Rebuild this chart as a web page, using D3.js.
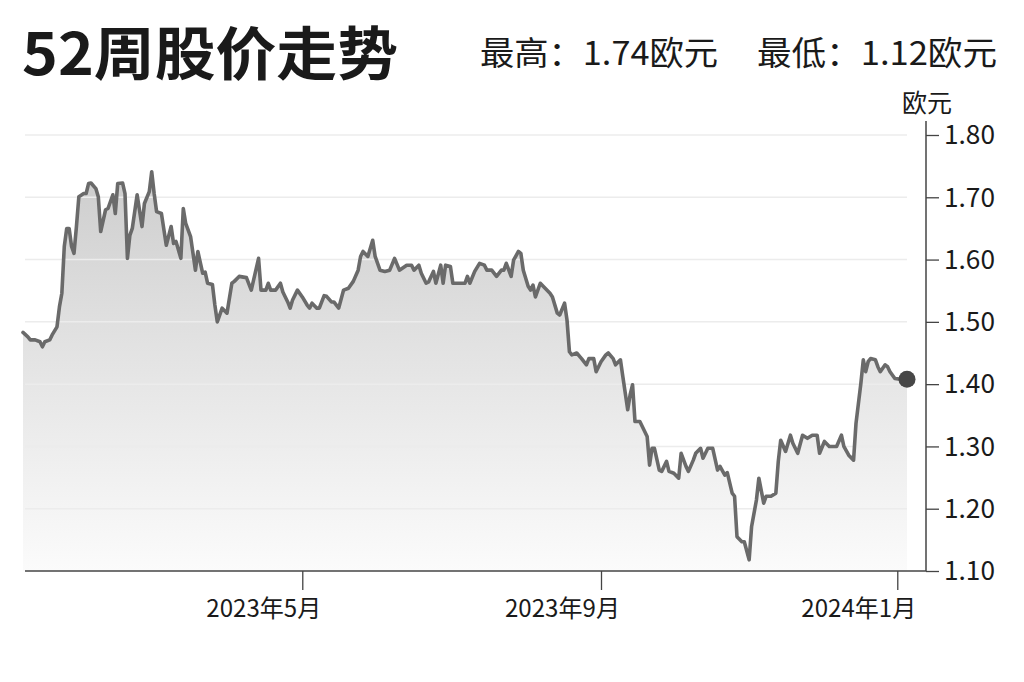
<!DOCTYPE html>
<html>
<head>
<meta charset="utf-8">
<script src="https://cdn.jsdelivr.net/npm/d3@7"></script>
<style>
  html, body { margin: 0; padding: 0; background: #ffffff; }
  svg { display: block; }
  text { font-family: "Noto Sans CJK SC", "Noto Sans", sans-serif; fill: #1a1a1a; }
</style>
</head>
<body>
<svg id="chart" width="1024" height="682"></svg>
<script>
// ---- data ----
const titleText = "52周股价走势";
const highText = "最高：1.74欧元";
const lowText = "最低：1.12欧元";
const unitText = "欧元";

const dates = [
"2023-01-06","2023-01-08","2023-01-09","2023-01-11","2023-01-13","2023-01-14","2023-01-15","2023-01-17","2023-01-18","2023-01-20",
"2023-01-21","2023-01-22","2023-01-23","2023-01-24","2023-01-25","2023-01-26","2023-01-27","2023-01-28","2023-01-29","2023-01-31",
"2023-02-01","2023-02-02","2023-02-03","2023-02-05","2023-02-06","2023-02-07","2023-02-09","2023-02-10","2023-02-12","2023-02-13",
"2023-02-14","2023-02-16","2023-02-17","2023-02-18","2023-02-19","2023-02-20","2023-02-22","2023-02-24","2023-02-25","2023-02-27",
"2023-02-28","2023-03-01","2023-03-02","2023-03-04","2023-03-06","2023-03-08","2023-03-09","2023-03-10","2023-03-12","2023-03-13",
"2023-03-14","2023-03-16","2023-03-18","2023-03-19","2023-03-21","2023-03-22","2023-03-23","2023-03-25","2023-03-26","2023-03-27",
"2023-03-29","2023-03-31","2023-04-02","2023-04-03","2023-04-05","2023-04-08","2023-04-10","2023-04-13","2023-04-14","2023-04-16",
"2023-04-17","2023-04-18","2023-04-20","2023-04-22","2023-04-23","2023-04-25","2023-04-26","2023-04-27","2023-04-29","2023-05-01",
"2023-05-03","2023-05-04","2023-05-05","2023-05-07","2023-05-08","2023-05-10","2023-05-11","2023-05-13","2023-05-14","2023-05-16",
"2023-05-18","2023-05-20","2023-05-22","2023-05-24","2023-05-25","2023-05-26","2023-05-28","2023-05-30","2023-05-31","2023-06-02",
"2023-06-04","2023-06-06","2023-06-08","2023-06-10","2023-06-13","2023-06-15","2023-06-16","2023-06-18","2023-06-19","2023-06-21",
"2023-06-22","2023-06-24","2023-06-25","2023-06-27","2023-06-28","2023-06-29","2023-07-01","2023-07-02","2023-07-05","2023-07-07",
"2023-07-08","2023-07-09","2023-07-11","2023-07-13","2023-07-15","2023-07-16","2023-07-18","2023-07-20","2023-07-22","2023-07-23",
"2023-07-24","2023-07-26","2023-07-27","2023-07-29","2023-07-30","2023-07-31","2023-08-02","2023-08-03","2023-08-04","2023-08-05",
"2023-08-07","2023-08-09","2023-08-11","2023-08-12","2023-08-14","2023-08-15","2023-08-17","2023-08-18","2023-08-19","2023-08-20",
"2023-08-22","2023-08-24","2023-08-26","2023-08-27","2023-08-29","2023-08-30","2023-09-01","2023-09-03","2023-09-04","2023-09-06",
"2023-09-07","2023-09-09","2023-09-10","2023-09-12","2023-09-13","2023-09-14","2023-09-15","2023-09-17","2023-09-18","2023-09-20",
"2023-09-21","2023-09-22","2023-09-23","2023-09-25","2023-09-26","2023-09-28","2023-09-29","2023-10-01","2023-10-03","2023-10-04",
"2023-10-06","2023-10-07","2023-10-09","2023-10-10","2023-10-12","2023-10-13","2023-10-15","2023-10-17","2023-10-19","2023-10-20",
"2023-10-22","2023-10-23","2023-10-25","2023-10-26","2023-10-27","2023-10-29","2023-10-30","2023-11-01","2023-11-02","2023-11-04",
"2023-11-05","2023-11-07","2023-11-08","2023-11-10","2023-11-12","2023-11-13","2023-11-14","2023-11-16","2023-11-18","2023-11-19",
"2023-11-21","2023-11-23","2023-11-25","2023-11-27","2023-11-29","2023-11-30","2023-12-02","2023-12-04","2023-12-06","2023-12-07",
"2023-12-09","2023-12-10","2023-12-12","2023-12-14","2023-12-15","2023-12-17","2023-12-18","2023-12-19","2023-12-20","2023-12-21",
"2023-12-23","2023-12-24","2023-12-25","2023-12-27","2023-12-28","2023-12-29","2023-12-31","2024-01-02","2024-01-05"
];

const prices = [
1.483,1.476,1.471,1.471,1.468,1.460,1.468,1.471,1.479,1.492,
1.524,1.546,1.621,1.650,1.650,1.621,1.610,1.653,1.701,1.706,
1.706,1.722,1.723,1.714,1.701,1.645,1.680,1.682,1.704,1.674,
1.722,1.723,1.706,1.602,1.639,1.650,1.704,1.653,1.690,1.709,
1.741,1.706,1.677,1.674,1.623,1.653,1.626,1.629,1.602,1.682,
1.658,1.637,1.583,1.613,1.578,1.580,1.562,1.560,1.527,1.500,
1.522,1.514,1.562,1.565,1.573,1.571,1.551,1.602,1.551,1.551,
1.562,1.551,1.551,1.562,1.548,1.532,1.522,1.535,1.551,1.540,
1.527,1.522,1.530,1.522,1.522,1.542,1.541,1.532,1.532,1.522,
1.551,1.554,1.565,1.583,1.605,1.613,1.605,1.631,1.605,1.583,
1.581,1.583,1.602,1.583,1.591,1.591,1.583,1.591,1.578,1.562,
1.564,1.581,1.562,1.591,1.562,1.591,1.589,1.562,1.562,1.562,
1.573,1.562,1.581,1.594,1.591,1.583,1.583,1.573,1.583,1.583,
1.594,1.573,1.599,1.613,1.610,1.583,1.557,1.551,1.559,1.540,
1.562,1.554,1.546,1.540,1.514,1.511,1.530,1.503,1.452,1.447,
1.450,1.441,1.431,1.441,1.441,1.420,1.436,1.447,1.450,1.441,
1.431,1.439,1.412,1.359,1.383,1.399,1.340,1.340,1.332,1.316,
1.270,1.297,1.297,1.262,1.260,1.276,1.260,1.257,1.249,1.289,
1.268,1.260,1.278,1.289,1.297,1.281,1.297,1.297,1.262,1.268,
1.254,1.258,1.225,1.220,1.155,1.147,1.147,1.118,1.171,1.214,
1.249,1.209,1.220,1.220,1.225,1.276,1.310,1.292,1.318,1.305,
1.289,1.318,1.313,1.318,1.318,1.289,1.308,1.300,1.300,1.300,
1.318,1.300,1.286,1.278,1.337,1.401,1.439,1.420,1.436,1.441,
1.439,1.428,1.420,1.431,1.428,1.420,1.409,1.408,1.408
];

const yTicks = [1.10, 1.20, 1.30, 1.40, 1.50, 1.60, 1.70, 1.80];
const xTickDates = ["2023-05-01", "2023-09-01", "2024-01-01"];
const xTickLabels = ["2023年5月", "2023年9月", "2024年1月"];
const xDomain = ["2023-01-06", "2024-01-05"];

// ---- chart ----
const parse = d3.timeParse("%Y-%m-%d");
const data = dates.map((d, i) => ({ date: parse(d), value: prices[i] }));

const svg = d3.select("#chart");

const x = d3.scaleTime().domain(xDomain.map(parse)).range([23, 907]);
const y = d3.scaleLinear().domain([1.10, 1.80]).range([571, 135]);
const axisX = 926;

// gradient
const defs = svg.append("defs");
const grad = defs.append("linearGradient")
  .attr("id", "fillGrad")
  .attr("gradientUnits", "userSpaceOnUse")
  .attr("x1", 0).attr("x2", 0)
  .attr("y1", y(1.80)).attr("y2", y(1.10));
grad.append("stop").attr("offset", "0%").attr("stop-color", "#c9c9c9");
grad.append("stop").attr("offset", "50%").attr("stop-color", "#e3e3e3");
grad.append("stop").attr("offset", "100%").attr("stop-color", "#fbfbfb");

// area
const area = d3.area()
  .x(d => x(d.date))
  .y0(y(1.10))
  .y1(d => y(d.value));
svg.append("path")
  .datum(data)
  .attr("d", area)
  .attr("fill", "url(#fillGrad)");

// gridlines (drawn over the fill)
svg.append("g")
  .selectAll("line")
  .data(yTicks.filter(t => t > 1.10))
  .join("line")
  .attr("x1", 25)
  .attr("x2", x(parse(xDomain[1])))
  .attr("y1", d => y(d))
  .attr("y2", d => y(d))
  .attr("stroke", "#ececec")
  .attr("stroke-width", 1.5);

// line
const line = d3.line()
  .x(d => x(d.date))
  .y(d => y(d.value));
svg.append("path")
  .datum(data)
  .attr("d", line)
  .attr("fill", "none")
  .attr("stroke", "#6a6a6a")
  .attr("stroke-width", 3.6)
  .attr("stroke-linejoin", "round")
  .attr("stroke-linecap", "round");

// end dot
const last = data[data.length - 1];
svg.append("circle")
  .attr("cx", x(last.date))
  .attr("cy", y(last.value))
  .attr("r", 8.5)
  .attr("fill", "#474747");

// x axis
const xAxis = d3.axisBottom(x)
  .tickValues(xTickDates.map(parse))
  .tickSize(19)
  .tickFormat("");
const gx = svg.append("g")
  .attr("transform", `translate(0,${y(1.10)})`)
  .call(xAxis);
gx.select(".domain").remove();
gx.selectAll(".tick line").attr("stroke", "#444").attr("stroke-width", 1.3);
svg.append("line")
  .attr("x1", 25).attr("x2", axisX)
  .attr("y1", y(1.10)).attr("y2", y(1.10))
  .attr("stroke", "#444").attr("stroke-width", 1.5);

svg.append("g")
  .selectAll("text")
  .data(xTickDates)
  .join("text")
  .attr("x", d => x(parse(d)) + 19)
  .attr("y", 617)
  .attr("text-anchor", "end")
  .attr("font-size", 24)
  .attr("textLength", 115)
  .attr("lengthAdjust", "spacingAndGlyphs")
  .text((d, i) => xTickLabels[i]);

// y axis on the right
const yAxis = d3.axisRight(y)
  .tickValues(yTicks)
  .tickSize(13)
  .tickPadding(5)
  .tickFormat(d3.format(".2f"));
const gy = svg.append("g")
  .attr("transform", `translate(${axisX},0)`)
  .call(yAxis);
gy.select(".domain").remove();
gy.selectAll(".tick line").attr("stroke", "#444").attr("stroke-width", 1.3);
gy.selectAll(".tick text")
  .attr("font-size", 26)
  .attr("font-family", "\"Noto Sans CJK SC\", sans-serif")
  .attr("fill", "#1a1a1a")
  .attr("textLength", 51)
  .attr("lengthAdjust", "spacingAndGlyphs")
  .attr("dy", "0.34em");
svg.append("line")
  .attr("x1", axisX).attr("x2", axisX)
  .attr("y1", 121).attr("y2", y(1.10))
  .attr("stroke", "#444").attr("stroke-width", 1.5);

// unit label
svg.append("text")
  .attr("x", 927).attr("y", 112)
  .attr("text-anchor", "middle")
  .attr("font-size", 25)
  .text(unitText);

// title
svg.append("text")
  .attr("x", 22).attr("y", 75)
  .attr("font-size", 58)
  .attr("font-weight", 700)
  .attr("textLength", 376)
  .attr("lengthAdjust", "spacingAndGlyphs")
  .attr("fill", "#111")
  .text(titleText);

svg.append("text")
  .attr("x", 480).attr("y", 65)
  .attr("font-size", 33)
  .attr("textLength", 238)
  .attr("lengthAdjust", "spacingAndGlyphs")
  .text(highText);

svg.append("text")
  .attr("x", 757).attr("y", 65)
  .attr("font-size", 33)
  .attr("textLength", 240)
  .attr("lengthAdjust", "spacingAndGlyphs")
  .text(lowText);
</script>
</body>
</html>
